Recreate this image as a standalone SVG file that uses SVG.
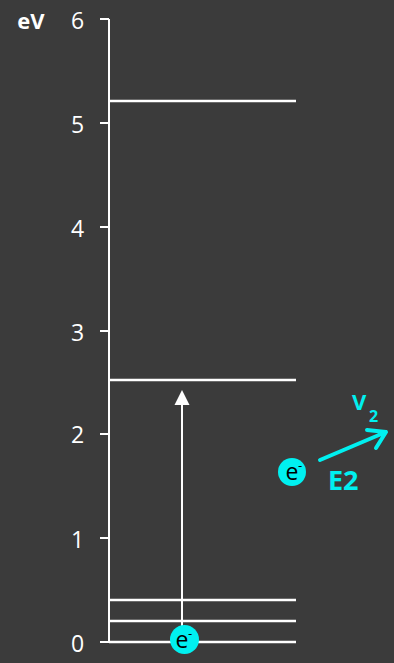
<svg xmlns="http://www.w3.org/2000/svg" width="394" height="663" viewBox="0 0 394 663">
<style>
.ax{stroke:#fff;stroke-width:2;fill:none}
.lv{stroke:#fff;stroke-width:2.5;fill:none}
.tk{font-family:"Open Sans","Noto Sans",sans-serif;font-size:23px;fill:#fff;text-anchor:middle}
.cy{fill:#00f0f0}
.el{font-family:"Open Sans","Noto Sans",sans-serif;font-size:23px;fill:#000;text-anchor:middle}
.sup{font-family:"Open Sans","Noto Sans",sans-serif;font-size:13px;fill:#000}
</style>
<rect width="394" height="663" fill="#3b3b3b"/>
<g id="axis">
<path class="ax" d="M109 19V642M100 19H109M100 123H109M100 227H109M100 331H109M100 434H109M100 538H109M100 642H109"/>
<text x="31" y="29" font-family="'Open Sans','Noto Sans',sans-serif" font-size="22" font-weight="bold" fill="#fff" text-anchor="middle">eV</text>
<text class="tk" x="77.5" y="29">6</text>
<text class="tk" x="77.5" y="133">5</text>
<text class="tk" x="77.5" y="237">4</text>
<text class="tk" x="77.5" y="341">3</text>
<text class="tk" x="77.5" y="443">2</text>
<text class="tk" x="77.5" y="548">1</text>
<text class="tk" x="77.5" y="652">0</text>
</g>
<g id="levels">
<path class="lv" d="M109 101H296M109 380H296M109 600H296M109 621H296M109 642H296"/>
</g>
<g id="connectors">
<path d="M182 642V403" stroke="#fff" stroke-width="2"/>
<path d="M182 390L189.5 405H174.5Z" fill="#fff"/>
<path d="M320 460L386 432M367 430L386 432L376 448" stroke="#00f0f0" stroke-width="4" fill="none" stroke-linecap="round" stroke-linejoin="round"/>
</g>
<g id="electron1">
<circle class="cy" cx="184.5" cy="639.5" r="14.5"/>
<text class="el" x="182" y="648">e</text>
<text class="sup" x="188" y="638">-</text>
</g>
<g id="electron2">
<circle class="cy" cx="292" cy="472" r="14"/>
<text class="el" x="292" y="480">e</text>
<text class="sup" x="298" y="470">-</text>
</g>
<g id="labels">
<text x="352" y="410" font-family="'Open Sans','Noto Sans',sans-serif" font-size="22" font-weight="bold" fill="#00f0f0">V</text>
<text x="369" y="422" font-family="'Open Sans','Noto Sans',sans-serif" font-size="16" font-weight="bold" fill="#00f0f0">2</text>
<text x="328" y="490" font-family="'Open Sans','Noto Sans',sans-serif" font-size="27" font-weight="bold" fill="#00f0f0">E2</text>
</g>
</svg>
